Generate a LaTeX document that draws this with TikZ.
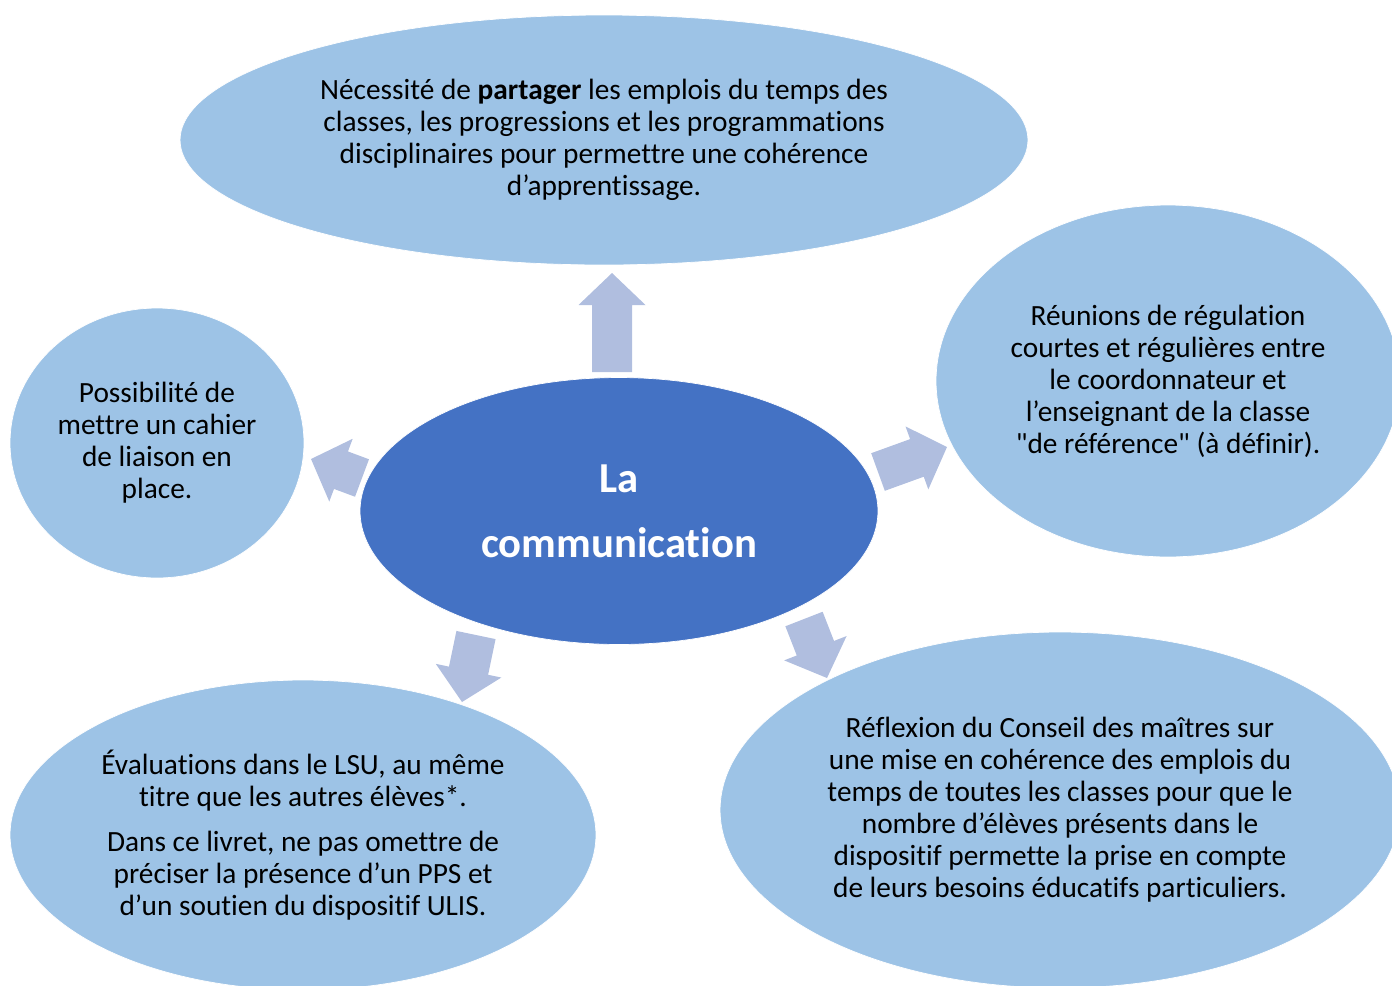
\documentclass[tikz,border=0pt]{standalone}
\usepackage{fontspec}
\setmainfont{Carlito}[Ligatures={TeXOff, CommonOff}]
\usetikzlibrary{shapes.geometric, calc}
\definecolor{bleuclair}{HTML}{9DC3E6}
\definecolor{bleufonce}{HTML}{4472C4}
\definecolor{lavande}{HTML}{B0BEDF}
\newcommand{\blockarrow}[2]{%
    \coordinate(h)at($(#2)!.64cm!(#1)$);
    \fill[lavande]($(#1)!.4cm!90:(#2)$)--($(h)!.4cm!90:(#2)$)--($(h)!.67cm!90:(#2)$)--(#2)
        --($(h)!.67cm!-90:(#2)$)--($(h)!.4cm!-90:(#2)$)--($(#1)!.4cm!-90:(#2)$)--cycle;
}

\begin{document}
\begin{tikzpicture}[x=.02cm, y=-.02cm,
    bubble/.style={ellipse, fill=bleuclair, draw=white, inner sep=0pt, align=center,
        font=\fontsize{16.7}{18.2}\selectfont},
    hub/.style={ellipse, fill=bleufonce, draw=white, inner sep=0pt, align=center, text=white,
        font=\fontsize{24.3}{37}\selectfont\bfseries}]
    \useasboundingbox(0, 0)rectangle(1392, 985);
    \node[hub, minimum width=10.36cm, minimum height=5.34cm](com)at(619, 511){La\\communication};
    \node[bubble, minimum width=16.96cm, minimum height=5cm](partage)at(604, 140){%
        Nécessité de \textbf{partager} les emplois du temps des\\
        classes, les progressions et les programmations\\
        disciplinaires pour permettre une cohérence\\
        d’apprentissage.};
    \node[bubble, minimum width=5.88cm, minimum height=5.4cm](cahier)at(157, 443){%
        Possibilité de\\mettre un cahier\\de liaison en\\place.};
    \node[bubble, minimum width=9.28cm, minimum height=7.04cm](reunion)at(1168, 381){%
        Réunions de régulation\\
        courtes et régulières entre\\
        le coordonnateur et\\
        l’enseignant de la classe\\
        "de référence" (à définir).};
    \node[bubble, minimum width=11.72cm, minimum height=6.2cm](lsu)at(303, 835){%
        Évaluations dans le LSU, au même\\
        titre que les autres élèves*.\\[7.4pt]
        Dans ce livret, ne pas omettre de\\
        préciser la présence d’un PPS et\\
        d’un soutien du dispositif ULIS.};
    \node[bubble, minimum width=13.6cm, minimum height=7.12cm](conseil)at(1060, 810){%
        Réflexion du Conseil des maîtres sur\\
        une mise en cohérence des emplois du\\
        temps de toutes les classes pour que le\\
        nombre d’élèves présents dans le\\
        dispositif permette la prise en compte\\
        de leurs besoins éducatifs particuliers.};
    % block arrows from the hub
    \coordinate(a1)at(612, 372); \coordinate(b1)at(612, 273);
    \coordinate(a2)at(362, 478); \coordinate(b2)at(311, 459);
    \coordinate(a3)at(878, 472); \coordinate(b3)at(947, 447);
    \coordinate(a4)at(476, 635); \coordinate(b4)at(462, 702);
    \coordinate(a5)at(804, 619); \coordinate(b5)at(827, 678);
    \blockarrow{a1}{b1}
    \blockarrow{a2}{b2}
    \blockarrow{a3}{b3}
    \blockarrow{a4}{b4}
    \blockarrow{a5}{b5}
\end{tikzpicture}
\end{document}
